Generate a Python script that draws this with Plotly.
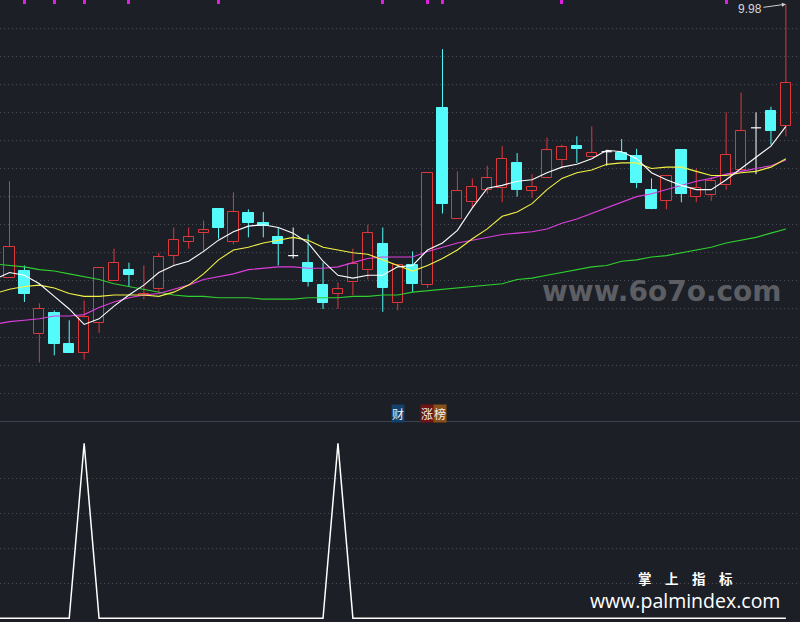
import plotly.graph_objects as go

# ---------------- data ----------------
idx = list(range(53))
open_ = [8.03, 8.08, 7.63, 7.78, 7.56, 7.50, 7.71, 8.01, 8.09, 7.90,
         7.95, 8.19, 8.29, 8.35, 8.52, 8.29, 8.49, 8.42, 8.32, 8.19,
         8.14, 7.98, 7.92, 8.00, 8.09, 8.27, 7.85, 8.12, 7.98, 9.24,
         8.45, 8.57, 8.66, 8.67, 8.85, 8.65, 8.74, 8.87, 8.97, 8.89,
         8.93, 8.92, 8.90, 8.66, 8.58, 8.94, 8.61, 8.62, 8.69, 8.80,
         9.10, 9.22, 9.11]
high = [8.72, 8.12, 7.85, 7.80, 7.73, 7.87, 8.10, 8.24, 8.14, 8.12,
        8.21, 8.39, 8.39, 8.44, 8.52, 8.64, 8.52, 8.50, 8.39, 8.39,
        8.34, 8.14, 8.00, 8.24, 8.41, 8.39, 8.12, 8.22, 8.78, 9.66,
        8.79, 8.74, 8.83, 8.97, 8.92, 8.77, 9.03, 8.98, 9.04, 9.11,
        8.94, 9.02, 8.95, 8.74, 8.76, 8.94, 8.81, 8.75, 9.21, 9.35,
        9.21, 9.25, 9.98]
low = [8.03, 7.86, 7.43, 7.48, 7.50, 7.45, 7.64, 8.01, 7.97, 7.88,
       7.93, 8.12, 8.24, 8.22, 8.31, 8.27, 8.32, 8.32, 8.12, 8.17,
       7.97, 7.81, 7.81, 7.91, 8.02, 7.79, 7.80, 7.93, 7.96, 8.49,
       8.45, 8.53, 8.63, 8.57, 8.61, 8.60, 8.74, 8.81, 8.85, 8.89,
       8.83, 8.87, 8.67, 8.52, 8.52, 8.57, 8.57, 8.58, 8.66, 8.80,
       8.77, 8.98, 9.04]
close = [8.25, 7.92, 7.81, 7.56, 7.50, 7.75, 8.10, 8.14, 8.05, 7.92,
         8.18, 8.30, 8.32, 8.37, 8.39, 8.50, 8.42, 8.40, 8.27, 8.19,
         8.00, 7.85, 7.95, 8.13, 8.35, 7.96, 8.12, 7.99, 8.78, 8.56,
         8.65, 8.68, 8.74, 8.88, 8.66, 8.68, 8.94, 8.96, 8.95, 8.92,
         8.93, 8.87, 8.71, 8.52, 8.76, 8.63, 8.67, 8.72, 8.91, 9.08,
         9.10, 9.08, 9.42]

# moving-average lines (start one bar before the first visible candle)
ma_idx = list(range(-1, 53))
ma5 = [8.02, 8.07, 8.05, 7.99, 7.90, 7.81, 7.70, 7.74, 7.83, 7.91,
       7.98, 8.07, 8.12, 8.15, 8.22, 8.30, 8.36, 8.40, 8.41, 8.39,
       8.35, 8.28, 8.15, 8.05, 8.03, 8.05, 8.05, 8.11, 8.12, 8.23,
       8.28, 8.37, 8.53, 8.67, 8.69, 8.72, 8.73, 8.78, 8.82, 8.84,
       8.88, 8.94, 8.93, 8.88, 8.78, 8.73, 8.69, 8.66, 8.66, 8.73,
       8.81, 8.89, 8.97, 9.11]
ma10 = [7.92, 7.95, 7.97, 7.98, 7.96, 7.92, 7.90, 7.90, 7.91, 7.91,
        7.91, 7.90, 7.93, 7.98, 8.06, 8.16, 8.23, 8.25, 8.28, 8.30,
        8.32, 8.30, 8.25, 8.23, 8.21, 8.20, 8.16, 8.12, 8.08, 8.12,
        8.17, 8.23, 8.31, 8.38, 8.47, 8.50, 8.56, 8.66, 8.74, 8.78,
        8.80, 8.84, 8.85, 8.85, 8.81, 8.82, 8.82, 8.79, 8.76, 8.76,
        8.78, 8.79, 8.82, 8.88]
ma20 = [7.70, 7.72, 7.73, 7.74, 7.76, 7.76, 7.77, 7.82, 7.86, 7.89,
        7.91, 7.92, 7.95, 7.98, 8.02, 8.04, 8.06, 8.09, 8.10, 8.11,
        8.11, 8.10, 8.10, 8.11, 8.14, 8.17, 8.18, 8.18, 8.18, 8.22,
        8.25, 8.28, 8.30, 8.32, 8.34, 8.35, 8.36, 8.38, 8.42, 8.45,
        8.49, 8.53, 8.57, 8.61, 8.63, 8.66, 8.69, 8.72, 8.74, 8.77,
        8.79, 8.81, 8.83, 8.87]
ma60 = [8.13, 8.12, 8.11, 8.09, 8.08, 8.06, 8.04, 8.02, 7.99, 7.97,
        7.95, 7.93, 7.91, 7.90, 7.90, 7.89, 7.89, 7.89, 7.88, 7.88,
        7.88, 7.89, 7.89, 7.89, 7.90, 7.90, 7.91, 7.91, 7.93, 7.94,
        7.95, 7.96, 7.97, 7.98, 7.99, 8.02, 8.03, 8.05, 8.07, 8.09,
        8.11, 8.12, 8.15, 8.16, 8.18, 8.19, 8.21, 8.23, 8.25, 8.28,
        8.30, 8.32, 8.35, 8.38]

# signal markers at top of price panel (bar indices)
top_marks = [1, 3, 5, 8, 14, 25, 28, 29, 37, 48]

# lower indicator panel
signal = [0, 0, 0, 0, 0, 0, 100, 0, 0, 0,
          0, 0, 0, 0, 0, 0, 0, 0, 0, 0,
          0, 0, 0, 100, 0, 0, 0, 0, 0, 0,
          0, 0, 0, 0, 0, 0, 0, 0, 0, 0,
          0, 0, 0, 0, 0, 0, 0, 0, 0, 0,
          0, 0, 0, 0]

price_grid = [9.81, 9.61, 9.41, 9.21, 9.01, 8.81, 8.61, 8.41, 8.21, 8.01,
              7.81, 7.61, 7.41, 7.21]
ind_grid = [20, 40, 60, 80]
max_label = "9.98"

# ---------------- styles ----------------
BG = "#1d1f27"
RED = "#dc383b"
CYAN = "#55fafa"
WHITE = "#ffffff"
GRID = "#4a4d56"

fig = go.Figure()

up = [i for i in idx if close[i] > open_[i]]
dn = [i for i in idx if close[i] < open_[i]]
fl = [i for i in idx if close[i] == open_[i]]

def seg_lists(pairs):
    xs, ys = [], []
    for x, a, b in pairs:
        xs += [x, x, None]
        ys += [a, b, None]
    return xs, ys

# wicks
red_w = []
for i in up:
    red_w.append((i, high[i], close[i]))
    red_w.append((i, open_[i], low[i]))
wx, wy = seg_lists(red_w)
fig.add_trace(go.Scatter(x=wx, y=wy, mode="lines", line=dict(color=RED, width=1),
                         hoverinfo="skip", showlegend=False))
wx, wy = seg_lists([(i, high[i], low[i]) for i in dn])
fig.add_trace(go.Scatter(x=wx, y=wy, mode="lines", line=dict(color=CYAN, width=1),
                         hoverinfo="skip", showlegend=False))
wx, wy = seg_lists([(i, high[i], low[i]) for i in fl])
fig.add_trace(go.Scatter(x=wx, y=wy, mode="lines", line=dict(color=WHITE, width=1),
                         hoverinfo="skip", showlegend=False))

# bodies
fig.add_trace(go.Bar(x=up, y=[close[i] - open_[i] for i in up], base=[open_[i] for i in up],
                     width=0.68, marker=dict(color=BG, line=dict(color=RED, width=1)),
                     hoverinfo="skip", showlegend=False))
fig.add_trace(go.Bar(x=dn, y=[open_[i] - close[i] for i in dn], base=[close[i] for i in dn],
                     width=0.7, marker=dict(color=CYAN, line=dict(color=CYAN, width=1)),
                     hoverinfo="skip", showlegend=False))
hx, hy = [], []
for i in fl:
    hx += [i - 0.34, i + 0.34, None]
    hy += [open_[i], open_[i], None]
fig.add_trace(go.Scatter(x=hx, y=hy, mode="lines", line=dict(color=WHITE, width=1.2),
                         hoverinfo="skip", showlegend=False))

# moving averages
for ys, col in [(ma60, "#2fcf2f"), (ma20, "#dd3fdd"), (ma10, "#f2f246"), (ma5, WHITE)]:
    fig.add_trace(go.Scatter(x=ma_idx, y=ys, mode="lines", line=dict(color=col, width=1.1),
                             hoverinfo="skip", showlegend=False))

# top markers
fig.add_trace(go.Bar(x=top_marks, y=[0.05] * len(top_marks), base=[9.985] * len(top_marks),
                     width=0.2, marker=dict(color="#e020e0", line=dict(width=0)),
                     hoverinfo="skip", showlegend=False))

# lower panel
fig.add_trace(go.Scatter(x=ma_idx, y=signal, mode="lines", line=dict(color=WHITE, width=1.5),
                         xaxis="x2", yaxis="y2", hoverinfo="skip", showlegend=False))

X_RANGE = [-0.636, 52.946]
top_bottom = 1 - 421 / 622
fig.update_layout(
    width=800, height=622, margin=dict(l=0, r=0, t=0, b=0),
    paper_bgcolor=BG, plot_bgcolor=BG, barmode="overlay", bargap=0,
    xaxis=dict(domain=[0, 1], range=X_RANGE, visible=False, anchor="y"),
    xaxis2=dict(domain=[0, 1], range=X_RANGE, visible=False, anchor="y2"),
    yaxis=dict(domain=[top_bottom, 1], range=[7.0125, 10.01], tickvals=price_grid,
               showticklabels=False, showgrid=True, gridcolor=GRID, griddash="1px,3px",
               gridwidth=1, zeroline=False, showline=False, ticks=""),
    yaxis2=dict(domain=[0, 200 / 622], range=[-2.11, 112.17], tickvals=ind_grid,
                showticklabels=False, showgrid=True, gridcolor=GRID, griddash="1px,3px",
                gridwidth=1, zeroline=False, showline=False, ticks=""),
    showlegend=False,
)

# separator line between panels
fig.add_shape(type="line", xref="paper", yref="paper", x0=0, x1=1,
              y0=1 - 421.5 / 622, y1=1 - 421.5 / 622, line=dict(color="#3d4250", width=1))

# highest price label with arrow
fig.add_annotation(x=52, y=high[52], xref="x", yref="y", text=max_label, showarrow=True,
                   ax=-36, ay=5, arrowhead=2, arrowsize=0.8, arrowwidth=1, arrowcolor="#d0d0d0",
                   font=dict(family="Liberation Sans, Arial", size=12, color="#d8d8d8"))

# tag labels
for txt, cx, bg in [("财", 397.5, "#14406c"), ("涨", 427, "#6e1414"), ("榜", 440, "#8a5016")]:
    fig.add_annotation(x=cx / 800, y=1 - 413 / 622, xref="paper", yref="paper", text=txt,
                       showarrow=False, bgcolor=bg, borderpad=0,
                       xanchor="center", yanchor="middle",
                       font=dict(family="Noto Sans CJK SC", size=12, color="#f0f0f0"))

# watermarks
fig.add_annotation(x=661.5 / 800, y=1 - 291 / 622, xref="paper", yref="paper",
                   text="<b>www.6o7o.com</b>", showarrow=False,
                   xanchor="center", yanchor="middle",
                   font=dict(family="DejaVu Sans", size=28, color="#5c5e64"))
fig.add_annotation(x=685 / 800, y=1 - 577.5 / 622, xref="paper", yref="paper",
                   text="<b>掌\u3000上\u3000指\u3000标</b>", showarrow=False,
                   xanchor="center", yanchor="middle", borderpad=0,
                   font=dict(family="Noto Sans CJK SC", size=13.5, color="#ffffff"))
fig.add_annotation(x=685 / 800, y=1 - 600.5 / 622, xref="paper", yref="paper",
                   text="www.palmindex.com", showarrow=False,
                   xanchor="center", yanchor="middle", borderpad=0,
                   font=dict(family="Open Sans", size=19.5, color="#ffffff"))

fig.write_html("out.html", config={"displayModeBar": False},
               post_script="document.body.style.margin='0';document.body.style.overflow='hidden';")
